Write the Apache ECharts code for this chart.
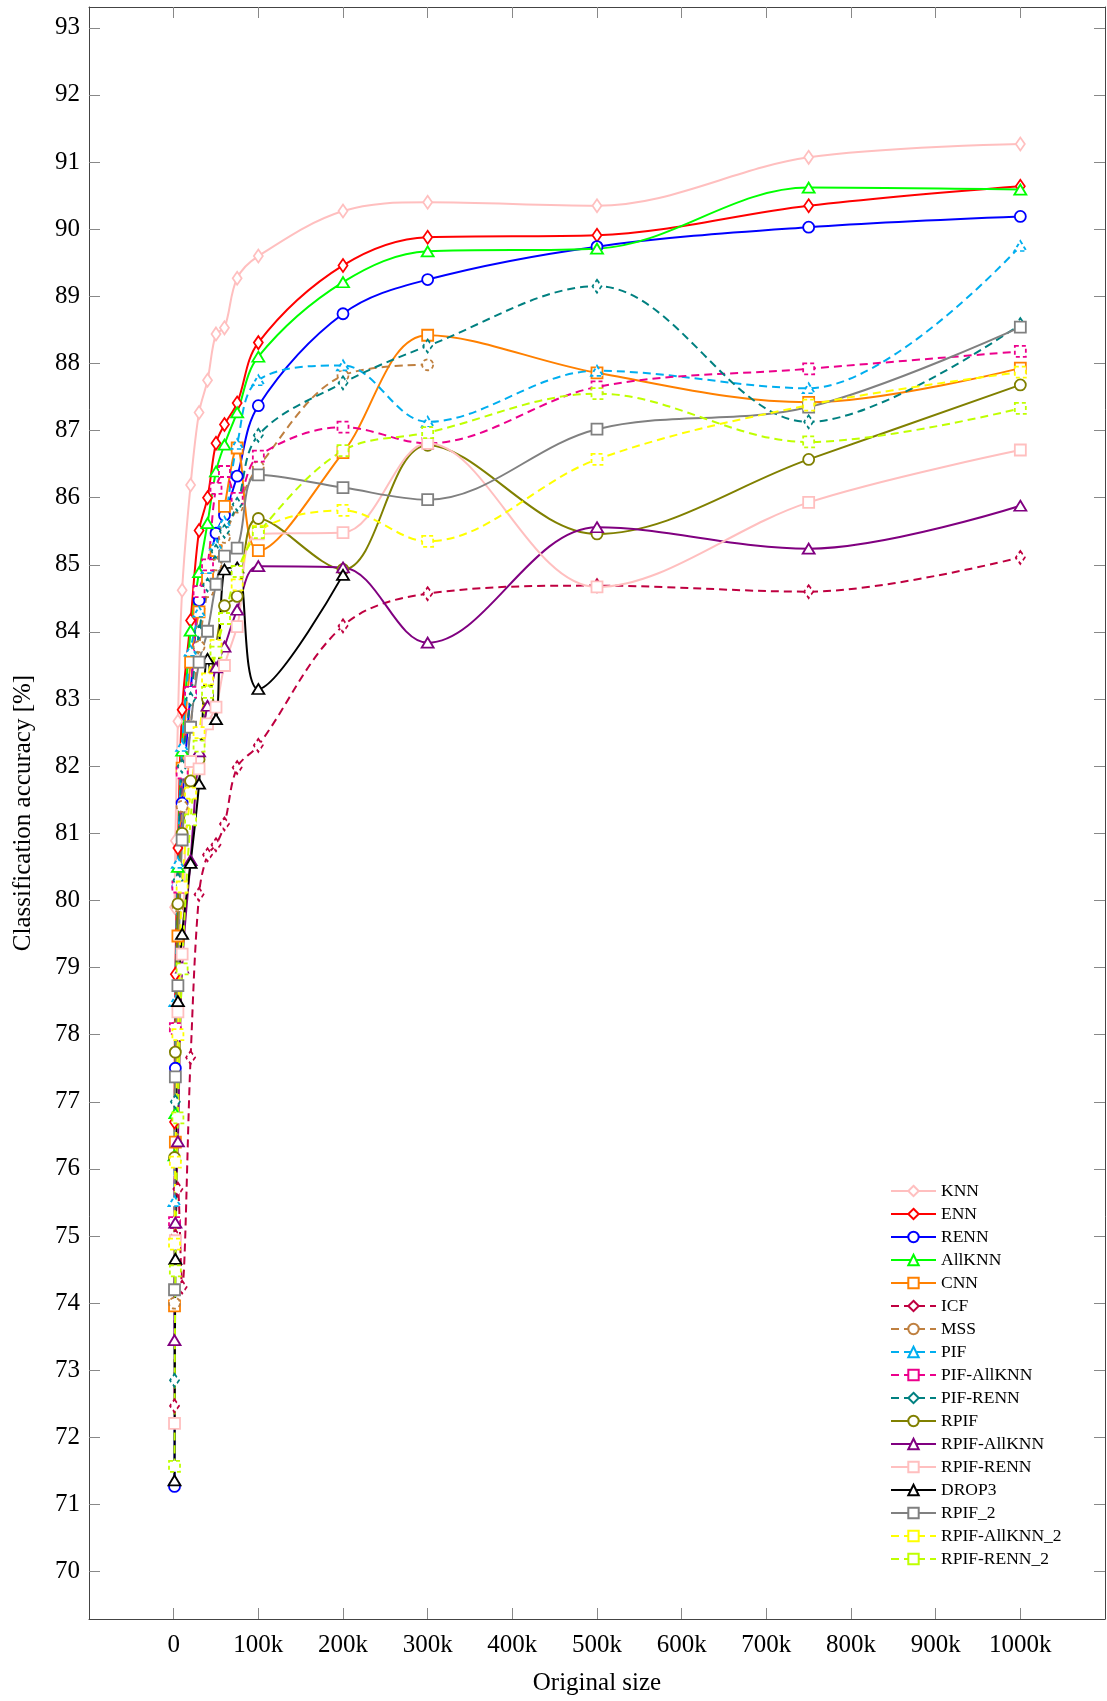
<!DOCTYPE html>
<html>
<head>
<meta charset="utf-8">
<script src="https://cdn.jsdelivr.net/npm/echarts@6/dist/echarts.min.js"></script>
<style>
html,body{margin:0;padding:0;background:#fff;}
#chart{width:1107px;height:1701px;}
</style>
</head>
<body>
<div id="chart"></div>
<script>
// Original dataset sizes (x)
const sizes = [1000, 2000, 5000, 10000, 20000, 30000, 40000, 50000, 60000, 75000, 100000, 200000, 300000, 500000, 750000, 1000000];
const xTicks = [0, 100000, 200000, 300000, 400000, 500000, 600000, 700000, 800000, 900000, 1000000];
const yTicks = [70,71,72,73,74,75,76,77,78,79,80,81,82,83,84,85,86,87,88,89,90,91,92,93];

// Classification accuracy [%] per method
const knn         = [79.9, 80.89, 82.67, 84.62, 86.19, 87.27, 87.75, 88.44, 88.53, 89.27, 89.6, 90.27, 90.4, 90.35, 91.07, 91.27];
const enn         = [76.7, 78.9, 80.78, 82.84, 84.17, 85.51, 86.0, 86.81, 87.09, 87.41, 88.31, 89.46, 89.88, 89.91, 90.35, 90.64];
const renn        = [71.27, 77.5, 80.2, 81.45, 83.1, 84.47, 84.89, 85.47, 85.74, 86.32, 87.37, 88.74, 89.25, 89.74, 90.03, 90.19];
const allknn      = [76.2, 76.83, 80.5, 82.23, 84.02, 84.89, 85.62, 86.39, 86.79, 87.27, 88.1, 89.21, 89.67, 89.71, 90.62, 90.59];
const cnn         = [73.96, 76.4, 79.47, 81.97, 83.55, 84.3, 84.8, 85.21, 85.87, 86.74, 85.21, 86.67, 88.42, 87.86, 87.42, 87.93];
const icf         = [72.47, 75.0, 75.7, 74.24, 77.66, 80.09, 80.68, 80.83, 81.14, 81.98, 82.31, 84.09, 84.57, 84.69, 84.6, 85.11];
const mss         = [74.0, 78.1, 79.92, 81.4, 82.6, 83.78, 84.6, 85.0, 85.41, 85.86, 86.46, 87.82, 87.98, null, null, null];
const pif         = [75.52, 78.5, 80.56, 82.3, 83.72, 84.3, 84.95, 85.3, 85.64, 86.8, 87.75, 87.97, 87.13, 87.89, 87.63, 89.75];
const pifAllknn   = [75.2, 78.09, 80.2, 81.9, 83.1, 84.6, 85.0, 86.14, 86.39, 85.99, 86.62, 87.05, 86.81, 87.65, 87.92, 88.18];
const pifRenn     = [72.85, 77.0, 80.3, 82.0, 83.0, 84.0, 84.7, 85.2, 85.5, 85.9, 86.93, 87.71, 88.26, 89.15, 87.13, 88.58];
const rpif        = [76.17, 77.74, 79.95, 81.0, 81.78, 82.1, 83.0, 83.79, 84.39, 84.53, 85.69, 84.93, 86.78, 85.46, 86.57, 87.68];
const rpifAllknn  = [73.45, 75.2, 76.41, 79.0, 80.6, 82.22, 82.9, 83.47, 83.78, 84.33, 84.98, 84.96, 83.84, 85.56, 85.24, 85.88];
const rpifRenn    = [72.21, 74.93, 78.34, 79.2, 82.07, 81.96, 82.63, 82.88, 83.5, 84.08, 85.46, 85.48, 86.81, 84.67, 85.93, 86.71];
const drop3       = [71.36, 74.66, 78.5, 79.5, 80.56, 81.74, 83.6, 82.7, 84.93, 84.96, 83.15, 84.85, null, null, null, null];
const rpif2       = [74.2, 77.37, 78.73, 80.9, 82.58, 83.55, 84.01, 84.71, 85.13, 85.25, 86.34, 86.15, 85.97, 87.02, 87.35, 88.54];
const rpifAllknn2 = [74.88, 76.1, 78.0, 80.2, 81.6, 82.5, 83.3, 83.8, 84.2, 84.7, 85.5, 85.81, 85.35, 86.57, 87.38, 87.87];
const rpifRenn2   = [71.57, 74.48, 76.76, 78.98, 81.2, 82.3, 83.1, 83.7, 84.2, 84.9, 85.48, 86.7, 86.97, 87.55, 86.83, 87.33];

const defs = [
  ['KNN', knn, '#ffbfbf', 'diamond', false],
  ['ENN', enn, '#ff0000', 'diamond', false],
  ['RENN', renn, '#0000ff', 'circle', false],
  ['AllKNN', allknn, '#00ff00', 'triangle', false],
  ['CNN', cnn, '#ff8000', 'rect', false],
  ['ICF', icf, '#bf0040', 'diamond', true],
  ['MSS', mss, '#bf8040', 'circle', true],
  ['PIF', pif, '#00aeef', 'triangle', true],
  ['PIF-AllKNN', pifAllknn, '#ec008c', 'rect', true],
  ['PIF-RENN', pifRenn, '#008080', 'diamond', true],
  ['RPIF', rpif, '#808000', 'circle', false],
  ['RPIF-AllKNN', rpifAllknn, '#800080', 'triangle', false],
  ['RPIF-RENN', rpifRenn, '#ffbfbf', 'rect', false],
  ['DROP3', drop3, '#000000', 'triangle', false],
  ['RPIF_2', rpif2, '#808080', 'rect', false],
  ['RPIF-AllKNN_2', rpifAllknn2, '#ffff00', 'rect', true],
  ['RPIF-RENN_2', rpifRenn2, '#bfff00', 'rect', true]
];

const symSize = {diamond:[9,13], circle:11, triangle:[12,10], rect:11};
const FONT = '"Liberation Serif", "Times New Roman", serif';

const series = defs.map(([name, vals, color, sym, dashed]) => ({
  name: name,
  type: 'line',
  smooth: 0.35,
  data: sizes.map((x, i) => [x, vals[i]]).filter(p => p[1] !== null),
  symbol: sym,
  symbolSize: symSize[sym],
  showSymbol: true,
  lineStyle: {color: color, width: 2, type: dashed ? [8, 5] : 'solid'},
  itemStyle: {color: '#ffffff', borderColor: color, borderWidth: 1.8, borderType: dashed ? [4, 3] : 'solid'},
  emphasis: {disabled: true},
  xAxisIndex: 0,
  yAxisIndex: 0
}));

const frame = '#444444';
const tickColor = '#888888';
const labelStyle = {fontFamily: FONT, fontSize: 25, color: '#000'};
const yMin = 69.295, yMax = 93.31;

const option = {
  animation: false,
  backgroundColor: '#ffffff',
  textStyle: {fontFamily: FONT},
  grid: {left: 89, right: 2, top: 7, bottom: 73, containLabel: false},
  legend: {
    orient: 'vertical',
    left: 890,
    top: 1182,
    itemWidth: 45,
    itemHeight: 13,
    itemGap: 5,
    padding: 0,
    textStyle: {fontFamily: FONT, fontSize: 17.5, color: '#000', lineHeight: 18},
    data: defs.map(d => d[0])
  },
  xAxis: [
    {
      type: 'value', position: 'bottom', min: -100000, max: 1100000,
      name: 'Original size', nameLocation: 'middle', nameGap: 52,
      nameTextStyle: labelStyle,
      axisLine: {show: true, onZero: false, lineStyle: {color: frame, width: 1}},
      axisTick: {show: true, inside: true, length: 11, customValues: xTicks, lineStyle: {color: tickColor, width: 1}},
      axisLabel: Object.assign({show: true, customValues: xTicks, margin: 14,
        formatter: v => v === 0 ? '0' : (v / 1000) + 'k'}, labelStyle),
      splitLine: {show: false}
    },
    {
      type: 'value', position: 'top', min: -100000, max: 1100000,
      axisLine: {show: true, onZero: false, lineStyle: {color: frame, width: 1}},
      axisTick: {show: true, inside: true, length: 11, customValues: xTicks, lineStyle: {color: tickColor, width: 1}},
      axisLabel: {show: false},
      splitLine: {show: false}
    }
  ],
  yAxis: [
    {
      type: 'value', position: 'left', min: yMin, max: yMax,
      name: 'Classification accuracy [%]', nameLocation: 'middle', nameGap: 53, nameRotate: 90,
      nameTextStyle: labelStyle,
      axisLine: {show: true, onZero: false, lineStyle: {color: frame, width: 1}},
      axisTick: {show: true, inside: true, length: 11, customValues: yTicks, lineStyle: {color: tickColor, width: 1}},
      axisLabel: Object.assign({show: true, customValues: yTicks, margin: 9}, labelStyle),
      splitLine: {show: false}
    },
    {
      type: 'value', position: 'right', min: yMin, max: yMax,
      axisLine: {show: true, onZero: false, lineStyle: {color: frame, width: 1}},
      axisTick: {show: true, inside: true, length: 11, customValues: yTicks, lineStyle: {color: tickColor, width: 1}},
      axisLabel: {show: false},
      splitLine: {show: false}
    }
  ],
  series: series
};

const chart = echarts.init(document.getElementById('chart'), null, {renderer: 'canvas'});
chart.setOption(option);
</script>
</body>
</html>
